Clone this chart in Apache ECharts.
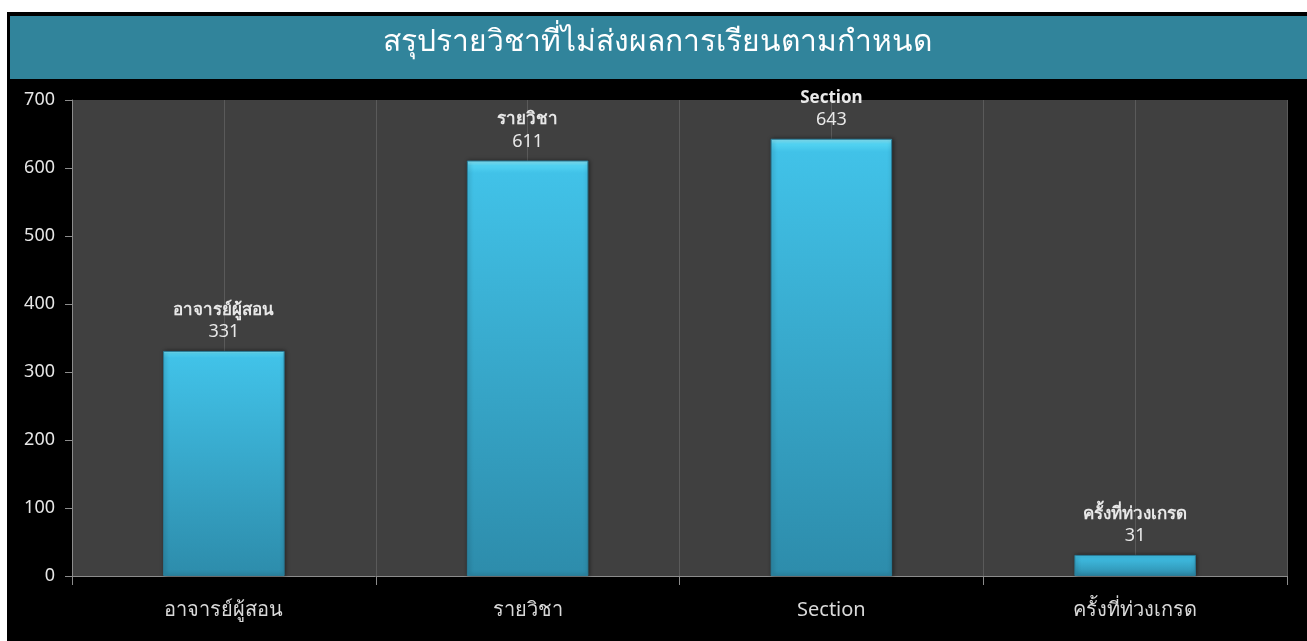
<!DOCTYPE html>
<html>
<head>
<meta charset="utf-8">
<title>สรุปรายวิชาที่ไม่ส่งผลการเรียนตามกำหนด</title>
<script src="https://cdn.jsdelivr.net/npm/echarts@6/dist/echarts.min.js"></script>
<style>
  html, body { margin: 0; padding: 0; background: #fff; }
  #chart {
    position: absolute;
    left: 7px;
    top: 12px;
    width: 1300px;
    height: 629px;
    background: #000;
  }
</style>
</head>
<body>
<div id="chart"></div>
<script>
const chartTitle = "สรุปรายวิชาที่ไม่ส่งผลการเรียนตามกำหนด";
const categories = ["อาจารย์ผู้สอน", "รายวิชา", "Section", "ครั้งที่ท่วงเกรด"];
const values = [331, 611, 643, 31];
const yTicks = [0, 100, 200, 300, 400, 500, 600, 700];

const fontFamily = "'Noto Sans', 'Open Sans', sans-serif";

const chart = echarts.init(document.getElementById("chart"));

const option = {
  backgroundColor: "#000",
  animation: false,
  textStyle: { fontFamily: fontFamily },
  graphic: [
    {
      type: "rect",
      left: 0,
      top: 1,
      shape: { width: 1300, height: 66 },
      style: { fill: "#31849B", stroke: "#000", lineWidth: 3 },
      z: 10,
    },
    {
      type: "text",
      left: "center",
      top: 15,
      style: {
        text: chartTitle,
        fill: "#fff",
        font: "500 30px " + fontFamily,
      },
      z: 11,
    },
  ],
  grid: {
    left: 65,
    right: 20,
    top: 88,
    bottom: 65,
    show: true,
    backgroundColor: "#404040",
    borderWidth: 0,
  },
  xAxis: [
    {
      type: "category",
      data: categories,
      axisLine: { lineStyle: { color: "#8c8c8c", width: 1 } },
      axisTick: { show: true, length: 9, lineStyle: { color: "#8c8c8c" } },
      axisLabel: { color: "#d9d9d9", fontSize: 20, margin: 24 },
      splitLine: { show: false },
    },
    {
      // helper axis: vertical lines at category centres and boundaries
      type: "value",
      min: 0,
      max: categories.length * 2,
      interval: 1,
      position: "top",
      show: true,
      axisLine: { show: false },
      axisTick: { show: false },
      axisLabel: { show: false },
      splitLine: { show: true, lineStyle: { color: "#5a5a5a", width: 1 } },
    },
  ],
  yAxis: {
    type: "value",
    min: yTicks[0],
    max: yTicks[yTicks.length - 1],
    interval: 100,
    axisLine: { show: true, lineStyle: { color: "#8c8c8c" } },
    axisTick: { show: true, length: 7, lineStyle: { color: "#8c8c8c" } },
    axisLabel: { color: "#e6e6e6", fontSize: 18, margin: 17 },
    splitLine: { show: false },
  },
  series: [
    {
      type: "bar",
      xAxisIndex: 0,
      data: values,
      barWidth: "40%",
      itemStyle: {
        color: new echarts.graphic.LinearGradient(0, 0, 0, 1, [
          { offset: 0, color: "#8EEBFC" },
          { offset: 0.012, color: "#52D3F2" },
          { offset: 0.03, color: "#41C2E8" },
          { offset: 1, color: "#2D8CAB" },
        ]),
        borderColor: "#2a7d99",
        borderWidth: 1,
        shadowColor: "rgba(0,0,0,0.45)",
        shadowBlur: 4,
        shadowOffsetX: 1,
        shadowOffsetY: 0,
      },
      label: {
        show: true,
        position: "top",
        distance: 8,
        formatter: function (p) {
          return "{n|" + p.name + "}\n{v|" + p.value + "}";
        },
        rich: {
          n: { color: "#e8e8e8", fontSize: 17, fontWeight: "bold", lineHeight: 22 },
          v: { color: "#e8e8e8", fontSize: 18, lineHeight: 22 },
        },
      },
    },
  ],
};

chart.setOption(option);
</script>
</body>
</html>
